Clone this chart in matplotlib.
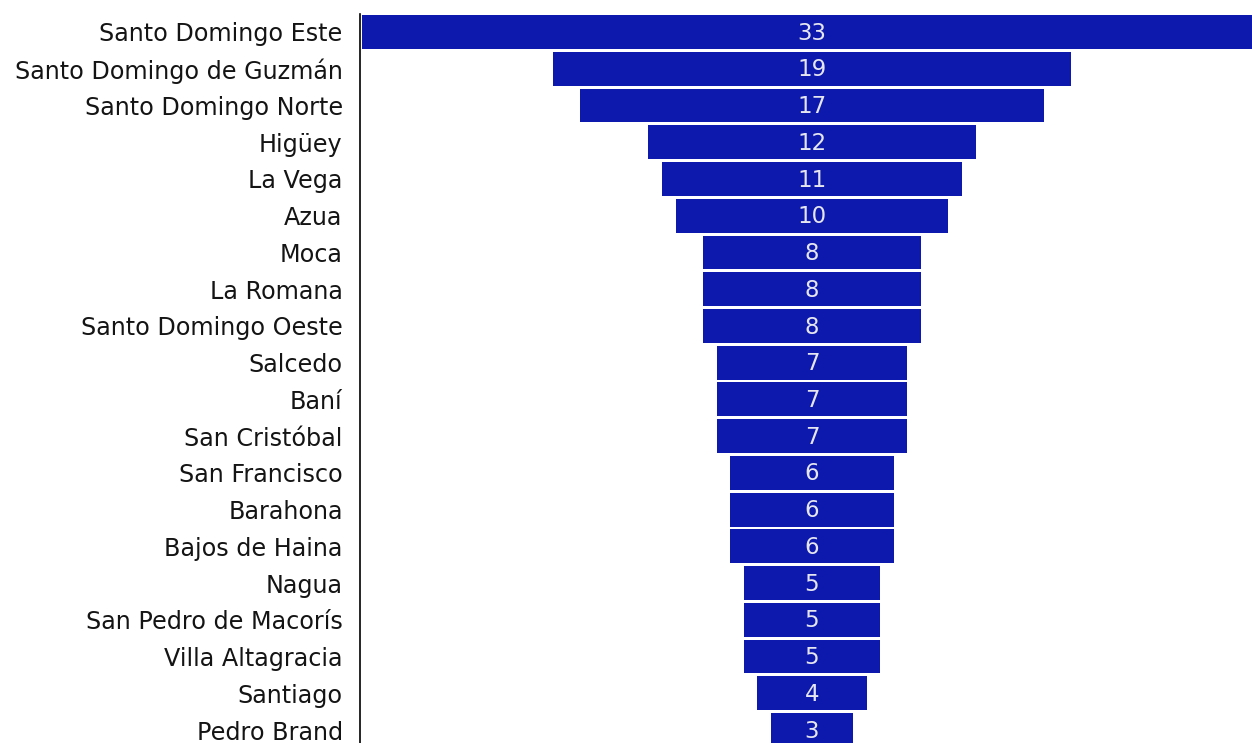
import matplotlib
matplotlib.use("Agg")
from matplotlib import pyplot as plt

cities = ["Santo Domingo Este", "Santo Domingo de Guzmán", "Santo Domingo Norte",
          "Higüey", "La Vega", "Azua", "Moca", "La Romana", "Santo Domingo Oeste",
          "Salcedo", "Baní", "San Cristóbal", "San Francisco", "Barahona",
          "Bajos de Haina", "Nagua", "San Pedro de Macorís", "Villa Altagracia",
          "Santiago", "Pedro Brand"]
counts = [33, 19, 17, 12, 11, 10, 8, 8, 8, 7, 7, 7, 6, 6, 6, 5, 5, 5, 4, 3]

plt.rcParams['font.family'] = ['DejaVu Sans']

fig = plt.figure(figsize=(12.52, 7.43), dpi=100)
ax = fig.add_axes([360 / 1252, -0.0073, 1 - 360 / 1252, 0.9817 + 0.0073])

top = max(counts)
ypos = list(range(len(cities)))
lefts = [(top - c) / 2 for c in counts]
ax.barh(ypos, counts, left=lefts, height=0.92, color="#0d19ad")

for y, c, l in zip(ypos, counts, lefts):
    ax.text(l + c / 2, y + 0.03, str(c), ha="center", va="center",
            color="#e6e6f0", fontsize=16.5)

# widest bar runs past the right edge of the picture
ax.set_xlim(-0.08, 32.64)
ax.set_ylim(len(cities) - 0.5, -0.5)
ax.set_yticks(ypos)
ax.set_yticklabels(cities, fontsize=17.2, color="#141414")
ax.tick_params(axis="y", length=0, pad=12.5)
ax.set_xticks([])
for s in ["top", "right", "bottom"]:
    ax.spines[s].set_visible(False)
ax.spines["left"].set_linewidth(1.2)

plt.savefig("out.png", dpi=100)
